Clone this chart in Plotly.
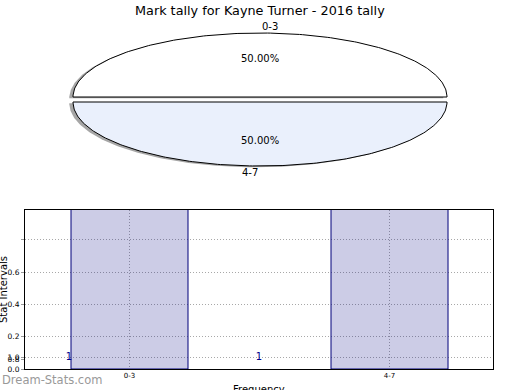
import numpy as np
import plotly.graph_objects as go

# ---- data ----
categories = ["0-3", "4-7"]
counts = [1, 1]
title_text = "Mark tally for Kayne Turner - 2016 tally"
y_ticks_main = [0.2, 0.4, 0.6, 0.8]
y_ticktext_main = ["0.2", "0.4", "0.6", ""]
y_ticks_second = [0.0, 0.8, 1.0]
y_ticktext_second = ["0.0", "0.8", "1.0"]

# ---- styles ----
W, H = 520, 390
FONT = "DejaVu Sans"
slice_colors = ["#ffffff", "#eaf0fc"]
explode = 0.039


def px(x):
    return x / W


def py(y):
    return 1 - y / H


fig = go.Figure()
annotations = []

# ---- pie (elliptical, drawn from values) ----
total = float(sum(counts))
theta = 0.0
for i, (cat, v) in enumerate(zip(categories, counts)):
    t1 = theta
    t2 = theta + 360.0 * v / total
    theta = t2
    mid = np.deg2rad((t1 + t2) / 2)
    cx, cy = explode * np.cos(mid), explode * np.sin(mid)
    ang = np.deg2rad(np.linspace(t1, t2, 200))
    xs = np.concatenate([[cx], cx + np.cos(ang), [cx]])
    ys = np.concatenate([[cy], cy + np.sin(ang), [cy]])
    fig.add_trace(go.Scatter(x=xs - 0.02, y=ys - 0.02, mode="lines", fill="toself",
                             fillcolor="rgba(77,77,77,0.5)", line=dict(width=0),
                             xaxis="x2", yaxis="y2", hoverinfo="skip", showlegend=False))
    fig.add_trace(go.Scatter(x=xs, y=ys, mode="lines", fill="toself",
                             fillcolor=slice_colors[i % len(slice_colors)],
                             line=dict(color="black", width=1),
                             xaxis="x2", yaxis="y2", hoverinfo="skip", showlegend=False))
    lx, ly = cx + 1.1 * np.cos(mid), cy + 1.1 * np.sin(mid)
    annotations.append(dict(x=lx, y=ly, xref="x2", yref="y2", text=cat, showarrow=False,
                            xanchor="left" if np.cos(mid) > 0 else "right", yanchor="middle",
                            font=dict(family=FONT, size=10, color="black")))
    annotations.append(dict(x=cx + 0.6 * np.cos(mid), y=cy + 0.6 * np.sin(mid), xref="x2", yref="y2",
                            text=f"{100 * v / total:.2f}%", showarrow=False,
                            xanchor="center", yanchor="middle",
                            font=dict(family=FONT, size=10, color="black")))

# ---- bars ----
fig.add_trace(go.Bar(x=categories, y=counts, width=0.45,
                     marker=dict(color="rgba(0,0,128,0.2)", line=dict(color="#00007a", width=1)),
                     xaxis="x", yaxis="y", hoverinfo="skip", showlegend=False))
fig.add_trace(go.Scatter(x=list(range(len(counts))), y=counts, mode="text",
                         text=[str(c) for c in counts],
                         textfont=dict(family=FONT, size=10, color="#00008b"),
                         xaxis="x3", yaxis="y3", hoverinfo="skip", showlegend=False))

annotations += [
    dict(x=0.5, y=py(10), xref="paper", yref="paper", text=title_text, showarrow=False,
         xanchor="center", yanchor="middle", font=dict(family=FONT, size=12.8, color="black")),
    dict(x=px(259), y=py(389), xref="paper", yref="paper", text="Frequency", showarrow=False,
         xanchor="center", yanchor="middle", font=dict(family=FONT, size=10, color="black")),
    dict(x=px(3), y=py(290), xref="paper", yref="paper", text="Stat Intervals", showarrow=False,
         textangle=-90, xanchor="center", yanchor="middle", font=dict(family=FONT, size=10, color="black")),
    dict(x=px(0), y=py(380), xref="paper", yref="paper", text="Dream-Stats.com", showarrow=False,
         xanchor="left", yanchor="middle", font=dict(family=FONT, size=11.5, color="#999999")),
]

bar_dom_x = [px(25), px(493)]
bar_dom_y = [py(369), py(210)]
grid = dict(gridcolor="#a8a8a8", griddash="1px,2px", gridwidth=1)

fig.update_layout(
    width=W, height=H, margin=dict(l=0, r=0, t=0, b=0),
    paper_bgcolor="white", plot_bgcolor="white",
    showlegend=False, annotations=annotations, hovermode=False,
    xaxis=dict(domain=bar_dom_x, anchor="y", range=[-0.4019, 1.398], type="category",
               showline=True, mirror=True, linecolor="black", linewidth=1,
               showgrid=True, **grid, ticks="", zeroline=False, automargin=False,
               tickfont=dict(family=FONT, size=7, color="black")),
    yaxis=dict(domain=bar_dom_y, anchor="x", range=[0, 0.985], tickmode="array",
               tickvals=y_ticks_main, ticktext=y_ticktext_main,
               showline=True, mirror=True, linecolor="black", linewidth=1, automargin=False,
               showgrid=True, **grid, zeroline=False, ticks="outside", ticklen=3, tickcolor="#999999",
               tickfont=dict(family=FONT, size=7.5, color="black")),
    xaxis3=dict(overlaying="x", anchor="y", range=[-0.2316, 2.2316], visible=False),
    yaxis3=dict(overlaying="y", anchor="x", side="left", range=[0, 13.25], tickmode="array",
                tickvals=y_ticks_second, ticktext=y_ticktext_second, showgrid=False,
                zeroline=False, showline=False, ticks="outside", ticklen=3, tickcolor="#999999",
                automargin=False, tickfont=dict(family=FONT, size=7.5, color="black"),
                minor=dict(tickmode="array", tickvals=[1.0], showgrid=True, **grid, ticks="")),
    xaxis2=dict(domain=[0, 1], anchor="y2", range=[-1.3904, 1.3904], visible=False),
    yaxis2=dict(domain=[0.5, 1], anchor="x2", range=[-1.4922, 1.5547], visible=False),
)

fig.write_html("out.html", config={"displayModeBar": False, "staticPlot": True},
               post_script="document.body.style.margin='0';document.body.style.overflow='hidden';")
